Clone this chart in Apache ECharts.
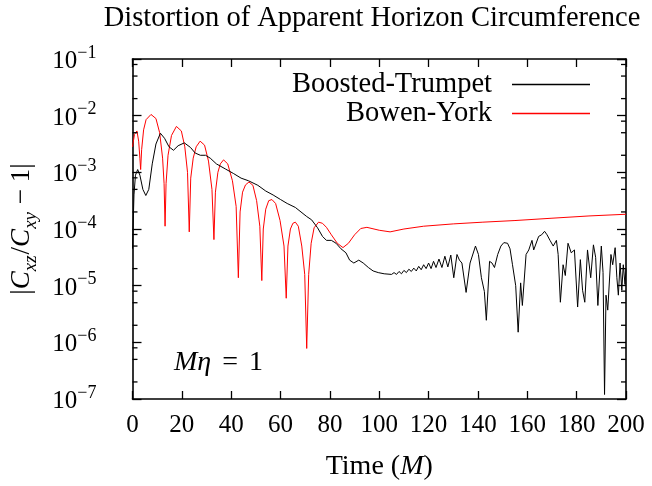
<!DOCTYPE html>
<html>
<head>
<meta charset="utf-8">
<script src="https://cdn.jsdelivr.net/npm/echarts@6/dist/echarts.min.js"></script>
<style>html,body{margin:0;padding:0;background:#fff}#c{width:652px;height:486px}</style>
</head>
<body>
<div id="c"></div>
<script>
// ---- data ----
var titleText = 'Distortion of Apparent Horizon Circumference';
var seriesNames = ['Boosted-Trumpet', 'Bowen-York'];
var xTicks = [0, 20, 40, 60, 80, 100, 120, 140, 160, 180, 200];
var yMajorTicks = [1e-7, 1e-6, 1e-5, 1e-4, 1e-3, 1e-2, 1e-1];
var yMinorTicks = [2e-7, 5e-7, 8e-7, 2e-6, 5e-6, 8e-6, 2e-5, 5e-5, 8e-5, 2e-4, 5e-4, 8e-4, 2e-3, 5e-3, 8e-3, 2e-2, 5e-2, 8e-2];

var btTime = [0, 0.6, 1.2, 2.1, 3.0, 4.2, 5.4, 6.6, 8.0, 9.5, 11.3, 13, 14.8, 16.6, 18.5, 21, 23.5, 25.4, 27.5, 29.6, 31.5, 34, 37.6, 41, 44, 47, 50.8, 54, 57, 60, 62.7, 66, 70.6, 72.6, 75, 77, 78.6, 80.6, 82.5, 84.5, 86.5, 88, 89.7, 91.7, 93.5, 95.6, 97.5, 99.6, 102, 105, 106, 107, 108, 109, 110, 111, 112, 113, 114, 115, 116, 117, 118, 119, 120, 121, 122, 123, 124.2, 125.4, 126.6, 127.8, 129, 130.2, 131.5, 132.5, 133.5, 135.2, 136.8, 139, 140.2, 141.4, 142.6, 143.4, 144.7, 145.7, 146.7, 148, 149.3, 150.5, 152, 153, 154, 155.3, 156.3, 157.3, 158, 159.5, 160.6, 161.9, 162.6, 164.6, 165.8, 167, 168, 169.2, 170.5, 171.8, 172.5, 173.4, 174.5, 175.4, 176.5, 177.8, 179.1, 180.4, 181.5, 182.4, 183.3, 184.4, 185.7, 186.8, 187.7, 188.6, 190, 190.7, 191.3, 191.9, 192.6, 193.9, 194.6, 195.6, 196.3, 196.9, 197.6, 198.3, 198.9, 199.6, 200];
var btValue = [4.5e-5, 4.0e-4, 8.9e-4, 1.12e-3, 8.9e-4, 5.0e-4, 3.9e-4, 5.0e-4, 1.41e-3, 3.16e-3, 4.9e-3, 3.98e-3, 2.82e-3, 2.45e-3, 2.95e-3, 3.31e-3, 2.75e-3, 2.19e-3, 2.0e-3, 2.0e-3, 1.78e-3, 1.41e-3, 1.15e-3, 9.5e-4, 7.9e-4, 7.1e-4, 5.9e-4, 4.68e-4, 3.98e-4, 3.31e-4, 2.82e-4, 2.4e-4, 1.66e-4, 1.45e-4, 1.05e-4, 7.4e-5, 6.3e-5, 6.3e-5, 5.6e-5, 4.47e-5, 3.8e-5, 2.82e-5, 2.51e-5, 2.82e-5, 2.51e-5, 2.09e-5, 1.82e-5, 1.70e-5, 1.62e-5, 1.58e-5, 1.70e-5, 1.58e-5, 1.78e-5, 1.62e-5, 1.86e-5, 1.70e-5, 1.95e-5, 1.78e-5, 2.04e-5, 1.82e-5, 2.19e-5, 1.91e-5, 2.34e-5, 2.0e-5, 2.51e-5, 2.0e-5, 2.69e-5, 2.09e-5, 2.95e-5, 2.09e-5, 3.31e-5, 2.14e-5, 3.47e-5, 1.38e-5, 3.55e-5, 2.82e-5, 2.51e-5, 7.6e-6, 2.51e-5, 5.0e-5, 3.55e-5, 1.38e-5, 7.9e-6, 2.45e-6, 2.69e-5, 2.51e-5, 2.09e-5, 3.55e-5, 5.0e-5, 5.75e-5, 5.6e-5, 4.47e-5, 2.34e-5, 1.0e-5, 1.51e-6, 1.12e-5, 4.47e-6, 3.55e-5, 4.27e-5, 6.3e-5, 4.27e-5, 7.4e-5, 7.9e-5, 9.1e-5, 7.9e-5, 6.3e-5, 5.0e-5, 6.3e-5, 3.55e-5, 5.1e-6, 2.34e-5, 1.51e-5, 5.6e-5, 3.8e-5, 4.27e-5, 4.2e-6, 2.88e-5, 8.3e-6, 5.1e-6, 4.27e-5, 1.38e-5, 5.25e-5, 3.16e-5, 4.47e-6, 5.0e-5, 1.7e-5, 1.2e-7, 6.8e-6, 3.7e-6, 3.55e-5, 2.34e-5, 4.68e-5, 1.38e-5, 6.8e-6, 2.51e-5, 8.3e-6, 2.34e-5, 1.05e-5, 2.0e-5];

var byTime = [0, 0.8, 1.8, 2.5, 3.0, 3.3, 3.7, 4.5, 5.5, 7.5, 9.5, 11, 12.2, 12.8, 13.2, 13.6, 14.4, 15.8, 17.8, 19.8, 21.2, 22.3, 23.0, 23.6, 24.6, 25.8, 27.4, 29.2, 30.8, 32.2, 33.0, 33.6, 34.6, 35.6, 36.9, 38.6, 40.5, 42.0, 42.9, 43.6, 44.6, 45.8, 47.2, 48.8, 50.3, 51.6, 52.4, 53.0, 54.0, 55.2, 56.5, 58.0, 59.8, 61.4, 62.3, 63.0, 64.0, 65.0, 66.0, 67.2, 68.6, 69.8, 70.6, 71.4, 72.4, 73.6, 75.4, 77.0, 78.6, 80.6, 83, 85.3, 87.5, 90, 92.5, 95, 100, 104.4, 110, 118, 130, 142, 155, 170, 185, 200];
var byValue = [2.82e-3, 4.68e-3, 5.37e-3, 3.55e-3, 1.78e-3, 1.12e-3, 2.51e-3, 5.62e-3, 8.5e-3, 1.05e-2, 8.9e-3, 5.0e-3, 1.78e-3, 6.3e-4, 1.12e-4, 6.3e-4, 2.0e-3, 4.47e-3, 6.46e-3, 5.37e-3, 2.82e-3, 1.0e-3, 8.9e-5, 7.9e-4, 1.78e-3, 2.82e-3, 3.55e-3, 3.02e-3, 1.58e-3, 5.0e-4, 6.5e-5, 4.47e-4, 1.0e-3, 1.41e-3, 1.66e-3, 1.41e-3, 7.1e-4, 2.51e-4, 1.38e-5, 2.0e-4, 4.47e-4, 6.0e-4, 6.76e-4, 5.9e-4, 3.16e-4, 1.12e-4, 1.23e-5, 1.0e-4, 2.24e-4, 3.16e-4, 3.31e-4, 2.82e-4, 1.41e-4, 5.0e-5, 6.0e-6, 5.0e-5, 1.0e-4, 1.26e-4, 1.32e-4, 1.12e-4, 5.0e-5, 1.58e-5, 7.8e-7, 1.58e-5, 5.6e-5, 1.05e-4, 1.32e-4, 1.26e-4, 1.07e-4, 7.9e-5, 5.6e-5, 4.7e-5, 5.6e-5, 7.9e-5, 1.02e-4, 1.07e-4, 9.5e-5, 8.9e-5, 1.0e-4, 1.12e-4, 1.23e-4, 1.32e-4, 1.41e-4, 1.55e-4, 1.70e-4, 1.82e-4];

function pairs(xs, ys) { return xs.map(function (x, i) { return [x, ys[i]]; }); }
function log10(v) { return Math.log(v) / Math.LN10; }

var FONT = 'Liberation Serif';
function expLabel(v) {
  var e = Math.round(log10(v));
  return '{b|10}{s|' + String(e).replace('-', '\u2212') + '}';
}

var chart = echarts.init(document.getElementById('c'), null, { renderer: 'canvas' });

var tickStyle = { color: '#000', width: 1.3 };
var lineStyleAx = { color: '#000', width: 1.6 };
var xMin = xTicks[0], xMax = xTicks[xTicks.length - 1];

var yMain = {
  type: 'log', logBase: 10, min: 1e-7, max: 1e-1, position: 'left',
  axisLine: { show: true, onZero: false, lineStyle: lineStyleAx },
  axisTick: { show: true, inside: true, length: 9, lineStyle: tickStyle },
  axisLabel: {
    show: true, margin: 20, formatter: expLabel,
    rich: {
      b: { fontFamily: FONT, fontSize: 25, color: '#000', lineHeight: 30, verticalAlign: 'bottom' },
      s: { fontFamily: FONT, fontSize: 18, color: '#000', lineHeight: 18, verticalAlign: 'top', padding: [0, 16, 0, 0] }
    }
  },
  splitLine: { show: false },
  name: '{n||}{i|C}{s|xz}{n|/}{i|C}{s|xy}{n| \u2212 1|}',
  nameLocation: 'middle', nameRotate: 90, nameGap: 92,
  nameTextStyle: {
    fontFamily: FONT, fontSize: 27, color: '#000',
    rich: {
      n: { fontFamily: FONT, fontSize: 27, color: '#000', lineHeight: 38, verticalAlign: 'middle' },
      i: { fontFamily: FONT, fontSize: 27, fontStyle: 'italic', color: '#000', lineHeight: 38, verticalAlign: 'middle' },
      s: { fontFamily: FONT, fontSize: 19, fontStyle: 'italic', color: '#000', lineHeight: 19, verticalAlign: 'bottom', padding: [0, 1, 0, 0] }
    }
  }
};
var yRight = {
  type: 'log', logBase: 10, min: 1e-7, max: 1e-1, position: 'right',
  axisLine: { show: true, onZero: false, lineStyle: lineStyleAx },
  axisTick: { show: true, inside: true, length: 9, lineStyle: tickStyle },
  axisLabel: { show: false }, splitLine: { show: false }
};

var option = {
  backgroundColor: '#fff',
  animation: false,
  title: {
    text: titleText, left: 367, top: -1, textAlign: 'center',
    textStyle: { fontFamily: FONT, fontSize: 28.5, fontWeight: 'normal', color: '#000' }
  },
  legend: {
    orient: 'vertical', right: 57, top: 65, align: 'right',
    itemWidth: 78, itemHeight: 1.3, itemGap: 0, icon: 'rect',
    data: seriesNames,
    textStyle: { fontFamily: FONT, fontSize: 28.5, color: '#000', lineHeight: 28, padding: [0, 15, 0, 0] }
  },
  grid: { left: 122, right: 26, top: 59, bottom: 83, containLabel: false },
  xAxis: [
    {
      type: 'value', min: xMin, max: xMax, interval: 20, position: 'bottom',
      name: 'Time ({i|M})', nameLocation: 'middle', nameGap: 54,
      nameTextStyle: {
        fontFamily: FONT, fontSize: 28, color: '#000',
        rich: { i: { fontFamily: FONT, fontSize: 28, fontStyle: 'italic', color: '#000' } }
      },
      axisLine: { onZero: false, lineStyle: lineStyleAx },
      axisTick: { inside: true, length: 8, lineStyle: tickStyle },
      axisLabel: { margin: 14, fontFamily: FONT, fontSize: 25, color: '#000' },
      splitLine: { show: false }
    },
    {
      type: 'value', min: xMin, max: xMax, interval: 20, position: 'top',
      axisLine: { onZero: false, lineStyle: lineStyleAx },
      axisTick: { inside: true, length: 8, lineStyle: tickStyle },
      axisLabel: { show: false },
      splitLine: { show: false }
    }
  ],
  yAxis: [yMain, yRight],
  graphic: [
    {
      type: 'text', left: 174, top: 349,
      style: {
        text: '{i|M\u03b7}{n|=}{n|1}',
        rich: {
          i: { fontFamily: FONT, fontSize: 28, fontStyle: 'italic', fill: '#000' },
          n: { fontFamily: FONT, fontSize: 28, fill: '#000', padding: [0, 0, 0, 11] }
        }
      }
    }
  ],
  series: [
    {
      name: seriesNames[0], type: 'line', xAxisIndex: 0, yAxisIndex: 0,
      data: pairs(btTime, btValue), symbol: 'none', showSymbol: false,
      lineStyle: { color: '#000', width: 1 }, itemStyle: { color: '#000' }, z: 3
    },
    {
      name: seriesNames[1], type: 'line', xAxisIndex: 0, yAxisIndex: 0,
      data: pairs(byTime, byValue), symbol: 'none', showSymbol: false,
      lineStyle: { color: '#ff0000', width: 1 }, itemStyle: { color: '#ff0000' }, z: 2
    },
    {
      // minor log ticks (2, 5, 8 per decade) on left and right frame, placed by the log axis
      name: 'minorTicks', type: 'custom', coordinateSystem: 'cartesian2d', xAxisIndex: 0, yAxisIndex: 0,
      silent: true, clip: false, z: 5,
      encode: { x: 0, y: 1 },
      data: yMinorTicks.map(function (v) { return [xMin, v]; }),
      renderItem: function (params, api) {
        var v = api.value(1);
        var pl = api.coord([xMin, v]);
        var pr = api.coord([xMax, v]);
        return {
          type: 'group',
          children: [
            { type: 'line', shape: { x1: pl[0], y1: pl[1], x2: pl[0] + 5, y2: pl[1] }, style: { stroke: '#000', lineWidth: 1.3 } },
            { type: 'line', shape: { x1: pr[0] - 5, y1: pr[1], x2: pr[0], y2: pr[1] }, style: { stroke: '#000', lineWidth: 1.3 } }
          ]
        };
      }
    }
  ]
};
chart.setOption(option);
</script>
</body>
</html>
